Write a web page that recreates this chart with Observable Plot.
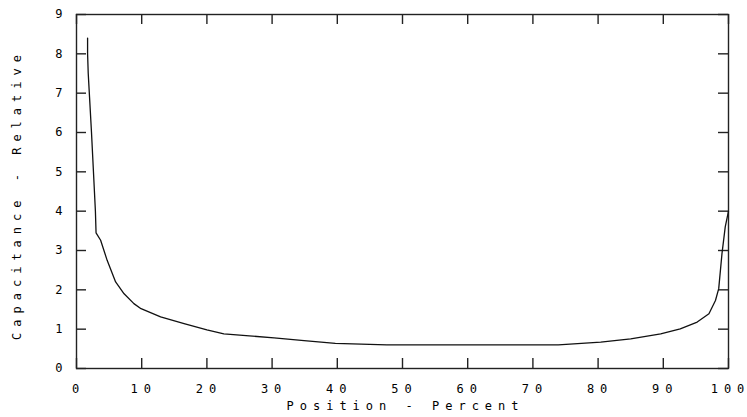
<!DOCTYPE html>
<html>
<head>
<meta charset="utf-8">
<script src="https://cdn.jsdelivr.net/npm/d3@7"></script>
<script src="https://cdn.jsdelivr.net/npm/@observablehq/plot@0.6"></script>
<style>
  html, body { margin: 0; padding: 0; background: #fff; }
</style>
</head>
<body>
<div id="chart"></div>
<script>
const positions = [1.7, 1.7, 1.8, 2.0, 2.3, 2.6, 2.9, 3.0, 3.7, 4.7, 6.0, 7.3, 8.8, 9.9, 12.9, 16.5, 20, 22.6, 26.5, 30.3, 34.9, 39.7, 47.6, 55, 65, 73.9, 80.4, 85, 89.6, 92.6, 95.2, 97, 98, 98.5, 99, 99.5, 100];
const capacitance = [8.4, 8.0, 7.5, 6.9, 6.0, 5.0, 4.0, 3.45, 3.26, 2.75, 2.2, 1.9, 1.65, 1.52, 1.31, 1.14, 0.98, 0.88, 0.83, 0.78, 0.71, 0.64, 0.6, 0.6, 0.6, 0.6, 0.67, 0.755, 0.88, 1.01, 1.18, 1.39, 1.73, 2.03, 2.92, 3.6, 4.0];
const xTicks = [0, 10, 20, 30, 40, 50, 60, 70, 80, 90, 100];
const yTicks = [0, 1, 2, 3, 4, 5, 6, 7, 8, 9];
const xTitle = "Position - Percent";
const yTitle = "Capacitance - Relative";

const data = positions.map((p, i) => ({x: p, y: capacitance[i]}));

const W = 747, H = 417, ML = 76, MR = 19, MT = 14, MB = 49;
const tickLen = 10;
const frameW = W - ML - MR, frameH = H - MT - MB;
const tickStyle = {stroke: "#222", strokeWidth: 1.4};

const chart = Plot.plot({
  width: W,
  height: H,
  marginLeft: ML,
  marginRight: MR,
  marginTop: MT,
  marginBottom: MB,
  style: {fontFamily: "'DejaVu Sans Mono', monospace", fontSize: "12px", letterSpacing: "6px", background: "#fff"},
  x: {domain: [0, 100], ticks: xTicks},
  y: {domain: [0, 9], ticks: yTicks},
  marks: [
    Plot.tickX(xTicks, {x: d => d, insetTop: frameH - tickLen, ...tickStyle}),
    Plot.tickX(xTicks, {x: d => d, insetBottom: frameH - tickLen, ...tickStyle}),
    Plot.tickY(yTicks, {y: d => d, insetRight: frameW - tickLen, ...tickStyle}),
    Plot.tickY(yTicks, {y: d => d, insetLeft: frameW - tickLen, ...tickStyle}),
    Plot.frame({stroke: "#222", strokeWidth: 1.4}),
    Plot.axisX({anchor: "bottom", ticks: xTicks, tickSize: 0, tickPadding: 16, label: null, dx: 2, fill: "#000"}),
    Plot.axisY({anchor: "left", ticks: yTicks, tickSize: 0, tickPadding: 8, label: null, fill: "#000"}),
    Plot.line(data, {x: "x", y: "y", stroke: "#111", strokeWidth: 1.3}),
    Plot.text([xTitle], {frameAnchor: "bottom", dy: 41, dx: 3, text: d => d, fill: "#000"}),
    Plot.text([yTitle], {frameAnchor: "left", textAnchor: "middle", dx: -59, dy: 3, rotate: -90, text: d => d, fill: "#000"})
  ]
});
document.getElementById("chart").appendChild(chart);
</script>
</body>
</html>
